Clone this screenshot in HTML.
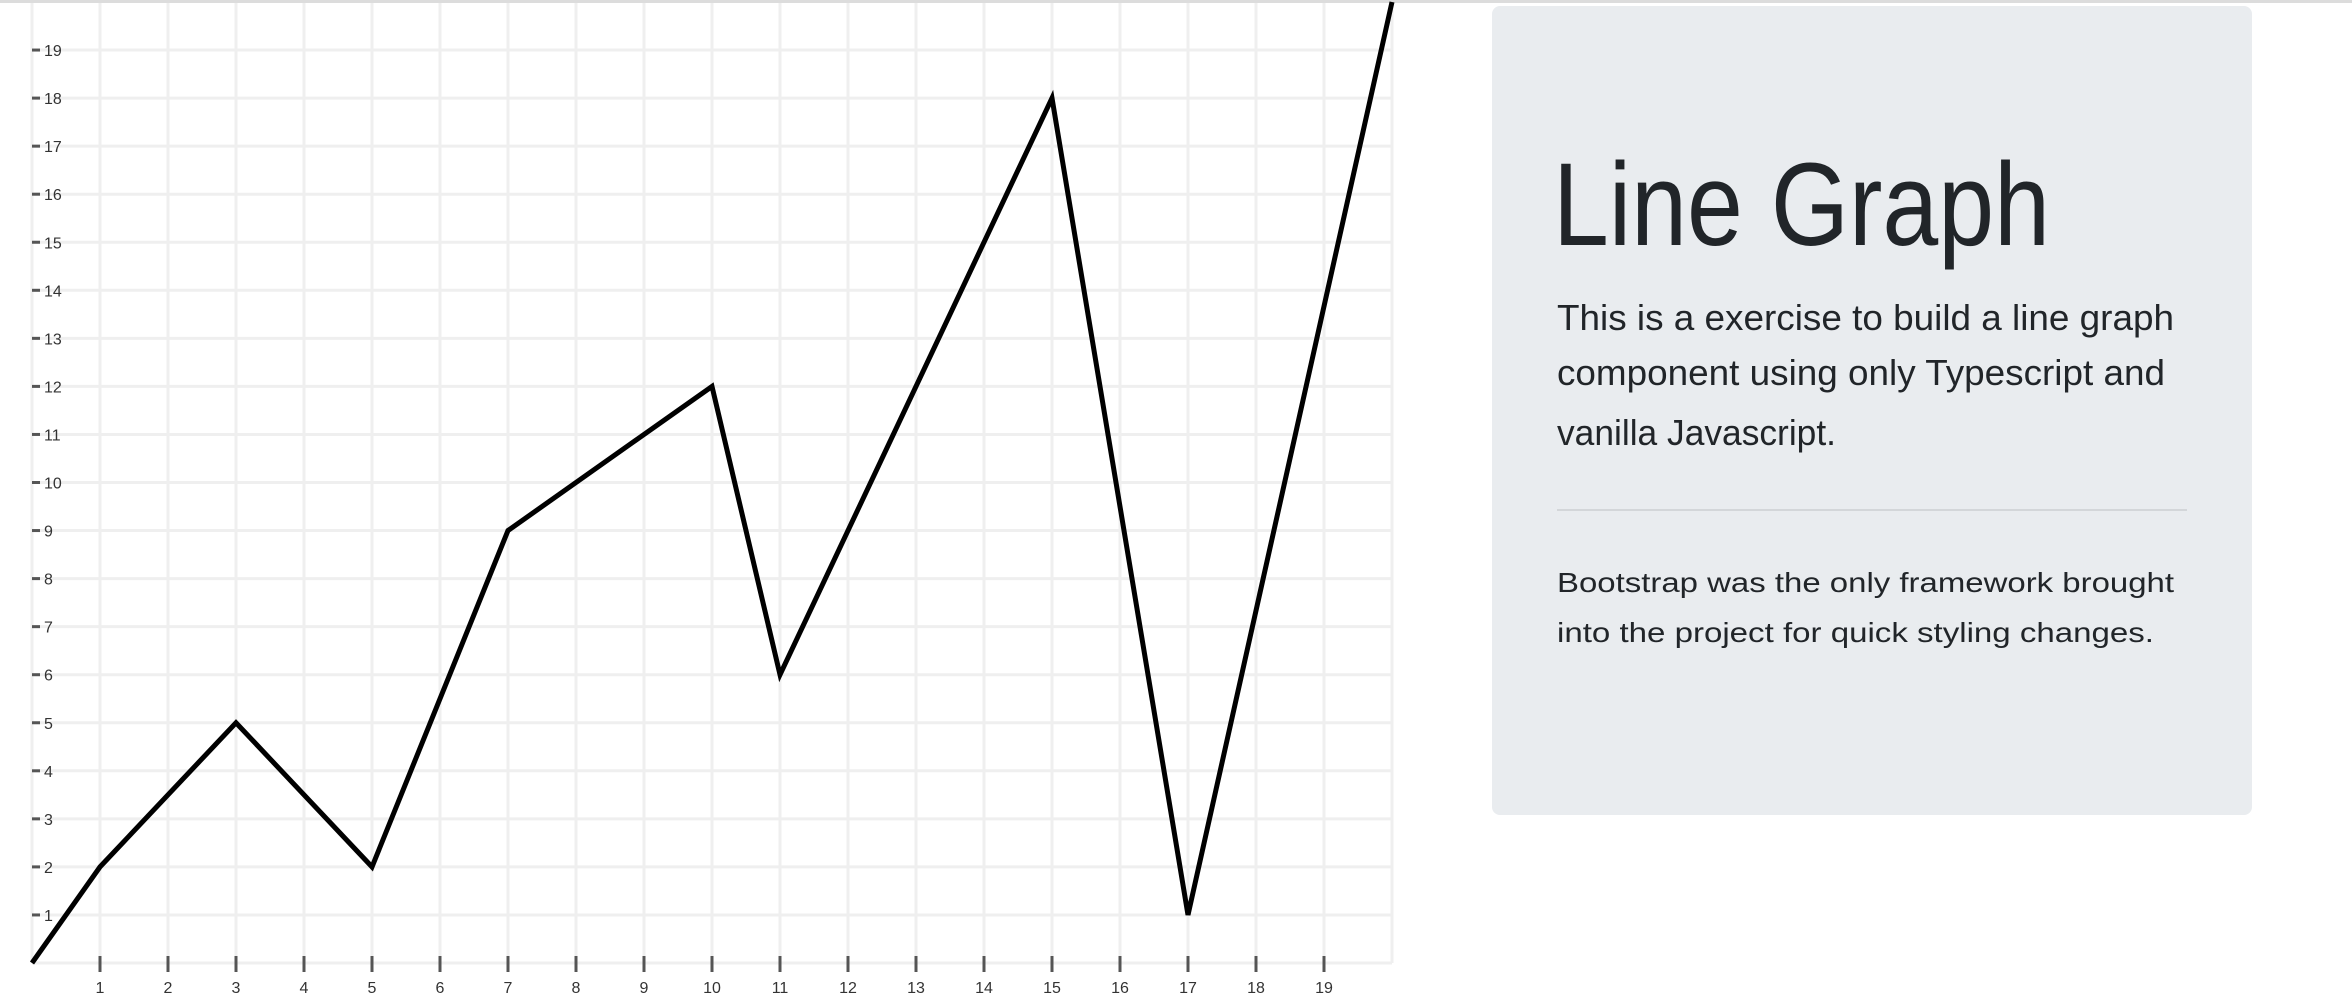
<!DOCTYPE html>
<html><head><meta charset="utf-8"><style>
html,body{margin:0;padding:0;background:#fff;width:2352px;height:1004px;overflow:hidden}
svg{display:block}
</style></head><body>
<svg id="root" width="2352" height="1004" xmlns="http://www.w3.org/2000/svg">
<rect x="0" y="0" width="2352" height="3" fill="#dcdcdc"/>
<g id="chart"></g>
<g>
<rect x="1492" y="6" width="760" height="809" rx="8" fill="#e9ecef"/>
<text x="1553" y="245" font-family="Liberation Sans, sans-serif" font-size="118" fill="#212529" textLength="497" lengthAdjust="spacingAndGlyphs">Line Graph</text>
<g font-family="Liberation Sans, sans-serif" font-size="36" fill="#212529">
<text x="1557" y="330" textLength="617" lengthAdjust="spacingAndGlyphs">This is a exercise to build a line graph</text>
<text x="1557" y="385" textLength="608" lengthAdjust="spacingAndGlyphs">component using only Typescript and</text>
<text x="1557" y="445" textLength="279" lengthAdjust="spacingAndGlyphs">vanilla Javascript.</text>
</g>
<rect x="1557" y="509" width="630" height="2" fill="#d3d6d9"/>
<g font-family="Liberation Sans, sans-serif" font-size="28" fill="#212529">
<text x="1557" y="592" textLength="617" lengthAdjust="spacingAndGlyphs">Bootstrap was the only framework brought</text>
<text x="1557" y="642" textLength="597" lengthAdjust="spacingAndGlyphs">into the project for quick styling changes.</text>
</g>
</g>
</svg>
<script>
const xValues = [0, 1, 3, 5, 7, 10, 11, 15, 17, 20];
const yValues = [0, 2, 5, 2, 9, 12, 6, 18, 1, 20];
const xTickLabels = ["1","2","3","4","5","6","7","8","9","10","11","12","13","14","15","16","17","18","19"];
const yTickLabels = ["1","2","3","4","5","6","7","8","9","10","11","12","13","14","15","16","17","18","19"];

const NS = "http://www.w3.org/2000/svg";
const chart = document.getElementById("chart");
const X0 = 32, XS = 68, Y0 = 963, YS = 48.05;
function sx(v){ return X0 + v * XS; }
function sy(v){ return Y0 - v * YS; }
function mk(tag, attrs){ const e = document.createElementNS(NS, tag); for (const k in attrs) e.setAttribute(k, attrs[k]); chart.appendChild(e); return e; }

const xMax = 20, yMax = 20;
for (let i = 0; i <= xMax; i++) {
  const g = mk("line", {x1: sx(i), x2: sx(i), y1: 3, y2: Y0, stroke: "#efefef", "stroke-width": 3});
  
  
}
for (let j = 0; j < yMax; j++) {
  const g = mk("line", {x1: X0, x2: sx(xMax), y1: sy(j), y2: sy(j), stroke: "#efefef", "stroke-width": 3});
  
  
}
xTickLabels.forEach((lab, i) => {
  const v = Number(lab);
  const t = mk("line", {x1: sx(v), x2: sx(v), y1: 956, y2: 972, stroke: "#555", "stroke-width": 3});
  
  
  const tx = mk("text", {x: sx(v), y: 993, "text-anchor": "middle", "font-family": "Liberation Sans, sans-serif", "font-size": 16, fill: "#333"});
  tx.textContent = lab;
  
  
});
yTickLabels.forEach((lab) => {
  const v = Number(lab);
  const t = mk("line", {x1: 32, x2: 40, y1: sy(v), y2: sy(v), stroke: "#555", "stroke-width": 3});
  
  
  const tx = mk("text", {x: 44, y: sy(v) + 6, "font-family": "Liberation Sans, sans-serif", "font-size": 16, fill: "#333"});
  tx.textContent = lab;
  
  
});
const pts = xValues.map((x, i) => sx(x) + "," + sy(yValues[i])).join(" ");
const line = mk("polyline", {points: pts, fill: "none", stroke: "#000", "stroke-width": 5, "stroke-linejoin": "miter"});


</script>
</body></html>
